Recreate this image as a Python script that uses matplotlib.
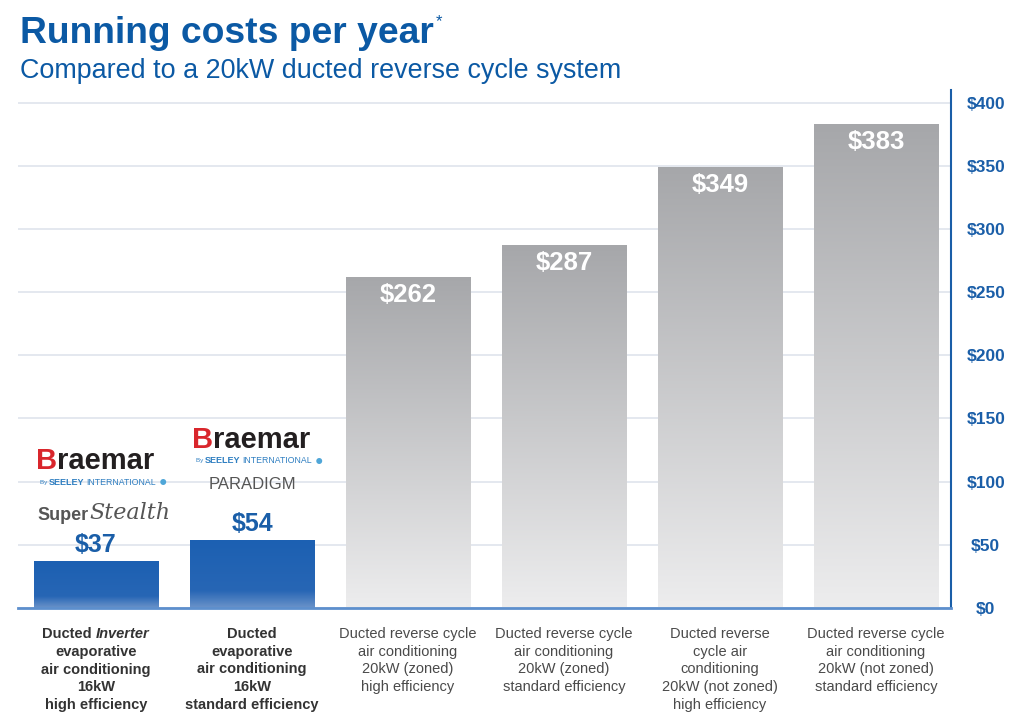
import numpy as np
import matplotlib.pyplot as plt
from matplotlib.colors import LinearSegmentedColormap

plt.rcParams['font.family'] = ['Liberation Sans', 'DejaVu Sans']

# data
costs = [37, 54, 262, 287, 349, 383]
value_labels = ['$37', '$54', '$262', '$287', '$349', '$383']
cat_labels = [
    'evaporative\nair conditioning\n16kW\nhigh efficiency',
    'Ducted\nevaporative\nair conditioning\n16kW\nstandard efficiency',
    'Ducted reverse cycle\nair conditioning\n20kW (zoned)\nhigh efficiency',
    'Ducted reverse cycle\nair conditioning\n20kW (zoned)\nstandard efficiency',
    'Ducted reverse\ncycle air\nconditioning\n20kW (not zoned)\nhigh efficiency',
    'Ducted reverse cycle\nair conditioning\n20kW (not zoned)\nstandard efficiency',
]
yticks = [0, 50, 100, 150, 200, 250, 300, 350, 400]
evap = [True, True, False, False, False, False]

BLUE = '#1a5ea8'
blue_cmap = LinearSegmentedColormap.from_list('b', [(0, '#6b93c9'), (0.25, '#2766b5'), (1, '#1c60b2')])
gray_cmap = LinearSegmentedColormap.from_list('g', ['#ededee', '#a6a7aa'])

fig = plt.figure(figsize=(10.24, 7.16), dpi=100)
ax = fig.add_axes([18/1024, 108/716, 933/1024, 518/716])

x = np.arange(len(costs))
bars = ax.bar(x, costs, width=0.8, color='none', edgecolor='none', zorder=2)
grad = np.linspace(0, 1, 256).reshape(-1, 1)
for b, e in zip(bars, evap):
    x0, w, h = b.get_x(), b.get_width(), b.get_height()
    im = ax.imshow(grad, cmap=blue_cmap if e else gray_cmap, origin='lower', aspect='auto',
                   extent=[x0, x0 + w, 0, h], zorder=2)
    im.set_clip_path(b)

ax.set_xlim(-0.5, 5.48)
ax.set_ylim(0, 410)
ax.set_yticks(yticks)
ax.set_yticklabels(['$%d' % t for t in yticks])
ax.yaxis.tick_right()
ax.tick_params(axis='y', length=0, pad=25, labelcolor=BLUE, labelsize=12.5)
for lab in ax.get_yticklabels():
    lab.set_fontweight('bold')
    lab.set_horizontalalignment('center')
ax.set_xticks([])
ax.grid(axis='y', color='#dfe4ec', linewidth=1.2, zorder=0)
ax.set_axisbelow(True)
for s in ['top', 'left']:
    ax.spines[s].set_visible(False)
ax.spines['right'].set_color(BLUE)
ax.spines['right'].set_linewidth(1.5)
ax.spines['bottom'].set_color('#5d8fcd')
ax.spines['bottom'].set_linewidth(2)
ax.spines['bottom'].set_zorder(3)

# value labels
for xi, c, t, e in zip(x, costs, value_labels, evap):
    if e:
        ax.annotate(t, (xi, c), xytext=(0, 3), textcoords='offset points', ha='center', va='bottom',
                    fontsize=18, fontweight='bold', color=BLUE)
    else:
        ax.annotate(t, (xi, c), xytext=(0, -4), textcoords='offset points', ha='center', va='top',
                    fontsize=18.5, fontweight='bold', color='white')

# logos (text approximations)
def braemar(xi, c, dy):
    kw = dict(xy=(xi, c), textcoords='offset points', va='center')
    ax.annotate('B', xytext=(-28, dy), ha='right', fontsize=21, fontweight='bold', color='#d9262c', **kw)
    ax.annotate('raemar', xytext=(-28, dy), ha='left', fontsize=21, fontweight='bold', color='#231f20', **kw)
    ax.annotate('By ', xytext=(-34, dy - 15), ha='right', fontsize=4.5, color='#2f7fc1', **kw)
    ax.annotate('SEELEY', xytext=(-34, dy - 15), ha='left', fontsize=6.5, fontweight='bold', color='#2f7fc1', **kw)
    ax.annotate('INTERNATIONAL', xytext=(-7, dy - 15), ha='left', fontsize=6.3, color='#2f7fc1', **kw)
    ax.annotate('\u25cf', xytext=(48, dy - 15), ha='center', fontsize=10, color='#4fa6d8', **kw)

braemar(x[0], costs[0], 72)
ax.annotate('Super', (x[0], costs[0]), xytext=(-5, 33), textcoords='offset points', ha='right', va='center',
            fontsize=13, fontweight='bold', color='#555555')
ax.annotate('Stealth', (x[0], costs[0]), xytext=(-5, 35), textcoords='offset points', ha='left', va='center',
            fontsize=16, fontstyle='italic', family='DejaVu Serif', color='#555555')
braemar(x[1], costs[1], 72)
ax.annotate('PARADIGM', (x[1], costs[1]), xytext=(0, 40), textcoords='offset points', ha='center', va='center',
            fontsize=12, color='#555555')

# category labels
lab_y = -14
line = 18 * 0.72
for xi, t, e in zip(x, cat_labels, evap):
    off = lab_y - line if xi == 0 else lab_y
    ax.annotate(t, (xi, 0), xytext=(0, off), textcoords='offset points', ha='center', va='top',
                fontsize=10.5, linespacing=1.32, fontweight='bold' if e else 'normal',
                color='#333333' if e else '#4a4a4a')
ax.annotate('Ducted ', (x[0], 0), xytext=(0, lab_y), textcoords='offset points', ha='right', va='top',
            fontsize=10.5, fontweight='bold', color='#333333')
ax.annotate('Inverter', (x[0], 0), xytext=(0, lab_y), textcoords='offset points', ha='left', va='top',
            fontsize=10.5, fontweight='bold', fontstyle='italic', color='#333333')

# titles
fig.text(20/1024, 1 - 43/716, 'Running costs per year', fontsize=26.8, fontweight='bold', color='#0b59a4')
fig.text(436/1024, 1 - 26/716, '*', fontsize=12, color='#0b59a4')
fig.text(20/1024, 1 - 78/716, 'Compared to a 20kW ducted reverse cycle system', fontsize=19.4, color='#0b59a4')

fig.savefig('out.png', dpi=100)
